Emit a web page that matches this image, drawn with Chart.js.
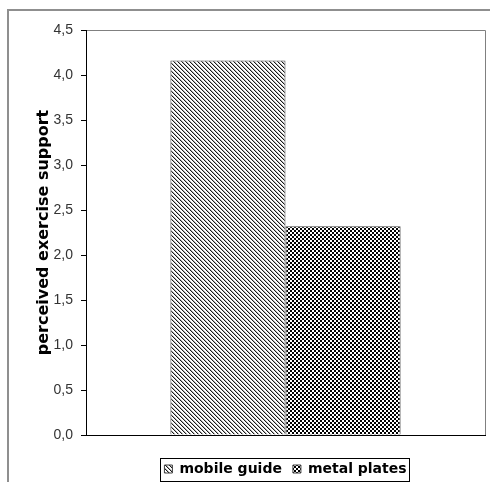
<!DOCTYPE html>
<html>
<head>
<meta charset="utf-8">
<title>perceived exercise support</title>
<script src="https://cdn.jsdelivr.net/npm/chart.js@4.4.0/dist/chart.umd.min.js"></script>
<style>
    html, body { margin: 0; padding: 0; background: #fff; }
    #chart { display: block; }
</style>
</head>
<body>
<canvas id="chart" width="490" height="482"></canvas>
<script>
// Data
const categories = [""];
const seriesNames = ["mobile guide", "metal plates"];
const mobileGuide = [4.16];
const metalPlates = [2.32];
const yTickLabels = ["0,0", "0,5", "1,0", "1,5", "2,0", "2,5", "3,0", "3,5", "4,0", "4,5"];

// Fill patterns, Excel style
function makeHatch() {
    const c = document.createElement("canvas");
    c.width = 4; c.height = 4;
    const g = c.getContext("2d");
    g.fillStyle = "#fff";
    g.fillRect(0, 0, 4, 4);
    for (let y = 0; y < 4; y++) {
        g.fillStyle = "#1a1a1a";
        g.fillRect(y, y, 1, 1);
        g.fillStyle = "#b4b4b4";
        g.fillRect((y + 1) % 4, y, 1, 1);
    }
    return g.createPattern(c, "repeat");
}

function makeChecker() {
    const c = document.createElement("canvas");
    c.width = 4; c.height = 4;
    const g = c.getContext("2d");
    g.fillStyle = "#fff";
    g.fillRect(0, 0, 4, 4);
    g.fillStyle = "#000";
    g.fillRect(0, 0, 2, 2);
    g.fillRect(2, 2, 2, 2);
    return g.createPattern(c, "repeat");
}

// Outer frame, plot frame and legend box
const frames = {
    id: "frames",
    beforeDraw(chart) {
        const ctx = chart.ctx;
        ctx.save();
        ctx.fillStyle = "#fff";
        ctx.fillRect(0, 0, chart.width, chart.height);
        ctx.strokeStyle = "#8f8f8f";
        ctx.lineWidth = 2;
        ctx.beginPath();
        ctx.moveTo(8, chart.height);
        ctx.lineTo(8, 10);
        ctx.lineTo(chart.width, 10);
        ctx.stroke();

        const a = chart.chartArea;
        ctx.strokeStyle = "#808080";
        ctx.lineWidth = 1;
        ctx.beginPath();
        ctx.moveTo(a.left, Math.round(a.top) + 0.5);
        ctx.lineTo(Math.round(a.right) + 0.5, Math.round(a.top) + 0.5);
        ctx.lineTo(Math.round(a.right) + 0.5, a.bottom);
        ctx.stroke();
        ctx.restore();
    },
    afterDraw(chart) {
        const lg = chart.legend;
        const hb = lg.legendHitBoxes;
        if (!hb || !hb.length) return;
        const pad = chart.options.plugins.legend.labels.padding;
        const x0 = Math.min(...hb.map(b => b.left)) - 4;
        const x1 = Math.max(...hb.map(b => b.left + b.width)) + 3;
        const mid = lg.top + pad + 7;
        const ctx = chart.ctx;
        ctx.save();
        ctx.strokeStyle = "#000";
        ctx.lineWidth = 1;
        ctx.strokeRect(Math.round(x0) + 0.5, Math.round(mid - 11) + 0.5,
            Math.round(x1 - x0), 23);
        ctx.restore();
    }
};

const ctx = document.getElementById("chart").getContext("2d");

const chart = new Chart(ctx, {
    type: "bar",
    data: {
        labels: categories,
        datasets: [
            {
                label: seriesNames[0],
                data: mobileGuide,
                backgroundColor: makeHatch(),
                borderColor: "#404040",
                borderWidth: 1
            },
            {
                label: seriesNames[1],
                data: metalPlates,
                backgroundColor: makeChecker(),
                borderColor: "#404040",
                borderWidth: 1
            }
        ]
    },
    plugins: [frames],
    options: {
        responsive: false,
        animation: false,
        devicePixelRatio: 1,
        categoryPercentage: 0.577,
        barPercentage: 1.0,
        layout: {
            padding: { top: 30, right: 5, left: 0, bottom: 0 }
        },
        scales: {
            x: {
                grid: { display: false },
                border: { display: true, color: "#000", width: 1 },
                ticks: { display: false },
                afterFit: (scale) => { scale.height = 16; }
            },
            y: {
                min: 0,
                max: 4.5,
                grid: {
                    display: true,
                    drawOnChartArea: false,
                    drawTicks: true,
                    tickLength: 5,
                    color: "#000"
                },
                border: { display: true, color: "#000", width: 1 },
                ticks: {
                    stepSize: 0.5,
                    padding: 8,
                    color: "#333",
                    font: { family: "Liberation Sans", size: 14 },
                    callback: (value, index) => yTickLabels[index]
                },
                title: {
                    display: true,
                    text: "perceived exercise support",
                    color: "#000",
                    font: { family: "DejaVu Sans", size: 16, weight: "bold" },
                    padding: { top: 34, bottom: 0 }
                },
                afterFit: (scale) => { scale.width = 86; }
            }
        },
        plugins: {
            legend: {
                display: true,
                position: "bottom",
                fullSize: false,
                maxHeight: 31,
                labels: {
                    boxWidth: 8,
                    boxHeight: 8,
                    padding: 11,
                    color: "#000",
                    font: { family: "DejaVu Sans", size: 14, weight: "bold" }
                }
            },
            tooltip: { enabled: false }
        }
    }
});
</script>
</body>
</html>
